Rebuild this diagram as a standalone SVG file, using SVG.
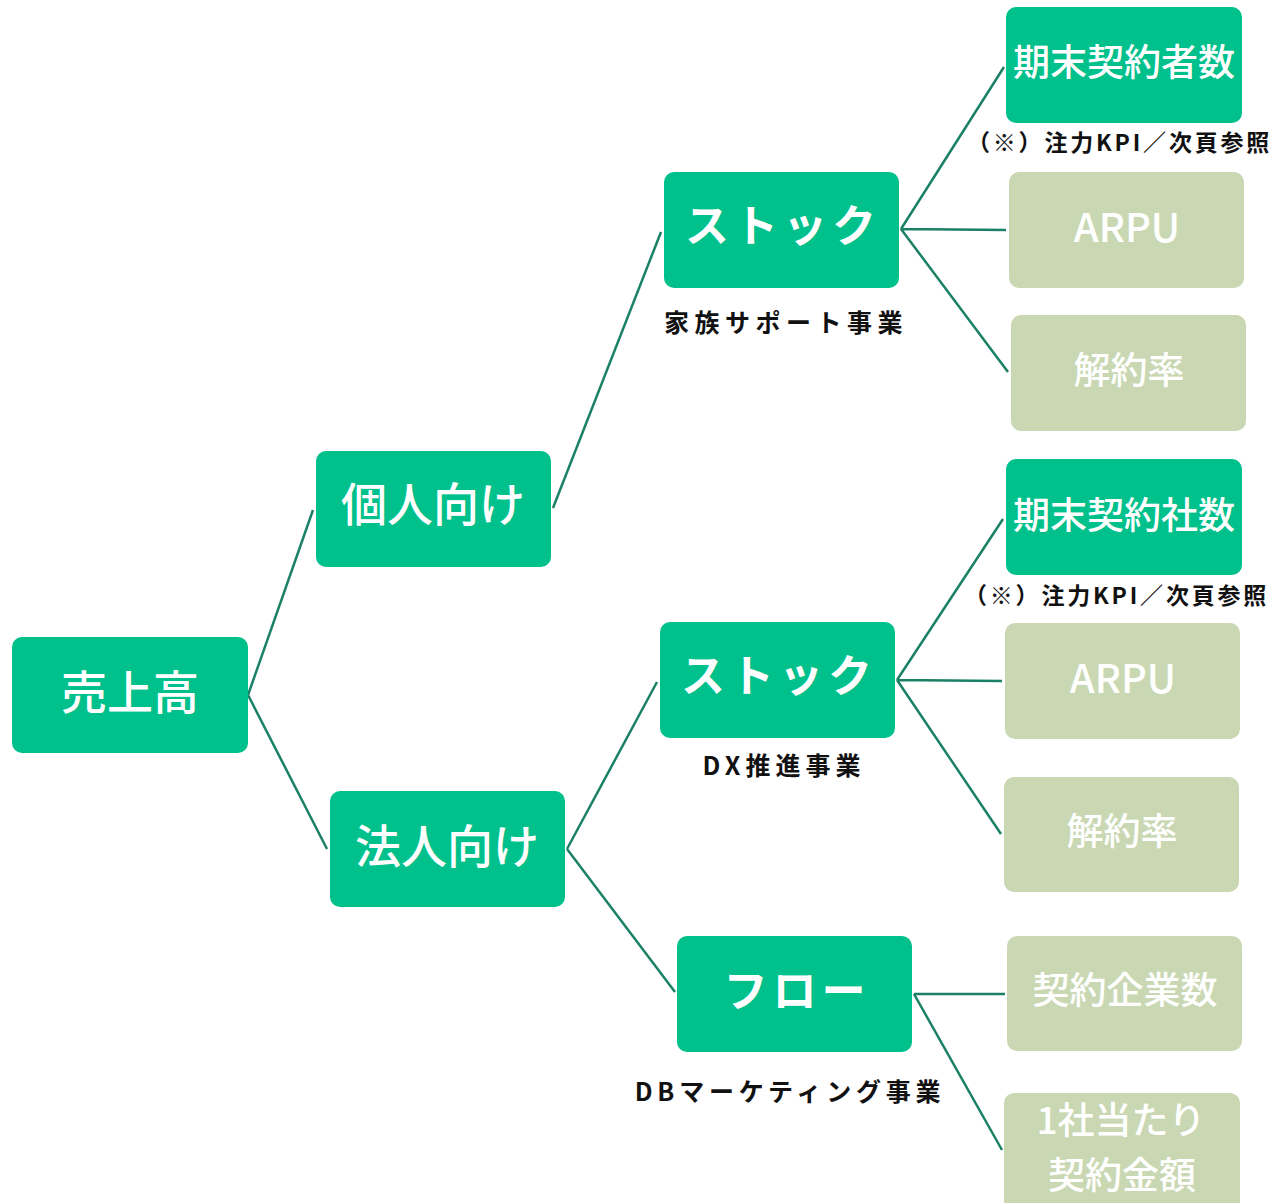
<svg xmlns="http://www.w3.org/2000/svg" width="1271" height="1203" viewBox="0 0 1271 1203">
<style>
.dk{fill:#00C08B}
.lt{fill:#C9D8B3}
.t{fill:#fff;font-family:"Noto Sans CJK JP","Noto Sans",sans-serif;text-anchor:middle;font-weight:500}
.big{font-size:46px}
.st{font-size:44px;font-weight:700;letter-spacing:5px}
.sm{font-size:37px}
.lbl{fill:#111;font-family:"Noto Sans CJK JP","Noto Sans",sans-serif;font-weight:700;font-size:25px}
.kpi{fill:#111;font-family:"Noto Sans CJK JP","Noto Sans",sans-serif;font-weight:700;font-size:23px;letter-spacing:2.8px}
.c{stroke:#1B8166;stroke-width:2.5;fill:none}
</style>
<g id="connectors">
<path class="c" d="M248,695 L313,510 M248,695 L327,849"/>
<path class="c" d="M553,508 L661,232"/>
<path class="c" d="M567,849 L657,682 M567,849 L675,992"/>
<path class="c" d="M901,229 L1004,67 M901,229 L1006,230 M901,229 L1008,372"/>
<path class="c" d="M897,680 L1003,519 M897,680 L1002,681 M897,680 L1001,834"/>
<path class="c" d="M914,994 L1005,994 M914,994 L1002,1150"/>
</g>
<g id="n-uriage"><rect class="dk" x="12" y="637" width="236" height="116" rx="10"/><text class="t big" x="130" y="709">売上高</text></g>
<g id="n-kojin"><rect class="dk" x="316" y="451" width="235" height="116" rx="10"/><text class="t big" x="433" y="521">個人向け</text></g>
<g id="n-hojin"><rect class="dk" x="330" y="791" width="235" height="116" rx="10"/><text class="t big" x="447" y="863">法人向け</text></g>
<g id="n-stock1"><rect class="dk" x="664" y="172" width="235" height="116" rx="10"/><text class="t st" x="783" y="242">ストック</text></g>
<g id="l-kazoku"><text class="lbl" x="786" y="332" text-anchor="middle" letter-spacing="5.5">家族サポート事業</text></g>
<g id="n-stock2"><rect class="dk" x="660" y="622" width="235" height="116" rx="10"/><text class="t st" x="779" y="692">ストック</text></g>
<g id="l-dx"><text class="lbl" x="784" y="775" text-anchor="middle" letter-spacing="5">DX推進事業</text></g>
<g id="n-flow"><rect class="dk" x="677" y="936" width="235" height="116" rx="10"/><text class="t st" x="797" y="1007">フロー</text></g>
<g id="l-db"><text class="lbl" x="790" y="1101" text-anchor="middle" letter-spacing="4.8">DBマーケティング事業</text></g>
<g id="n-kisha"><rect class="dk" x="1006" y="7" width="236" height="116" rx="10"/><text class="t sm" x="1124" y="76">期末契約者数</text></g>
<g id="l-kpi1"><text class="kpi" x="967" y="151">（※）注力KPI／次頁参照</text></g>
<g id="n-arpu1"><rect class="lt" x="1009" y="172" width="235" height="116" rx="10"/><text class="t" x="1127" y="242" font-size="40">ARPU</text></g>
<g id="n-kaiyaku1"><rect class="lt" x="1011" y="315" width="235" height="116" rx="10"/><text class="t sm" x="1129" y="384">解約率</text></g>
<g id="n-kisha2"><rect class="dk" x="1006" y="459" width="236" height="116" rx="10"/><text class="t sm" x="1124" y="529">期末契約社数</text></g>
<g id="l-kpi2"><text class="kpi" x="964" y="604">（※）注力KPI／次頁参照</text></g>
<g id="n-arpu2"><rect class="lt" x="1005" y="623" width="235" height="116" rx="10"/><text class="t" x="1123" y="693" font-size="40">ARPU</text></g>
<g id="n-kaiyaku2"><rect class="lt" x="1004" y="777" width="235" height="115" rx="10"/><text class="t sm" x="1122" y="845">解約率</text></g>
<g id="n-kigyo"><rect class="lt" x="1007" y="936" width="235" height="115" rx="10"/><text class="t sm" x="1125" y="1004">契約企業数</text></g>
<g id="n-kingaku"><rect class="lt" x="1004" y="1093" width="236" height="120" rx="10"/><text class="t sm" x="1121" y="1134">1社当たり</text><text class="t sm" x="1122" y="1189">契約金額</text></g>
</svg>
